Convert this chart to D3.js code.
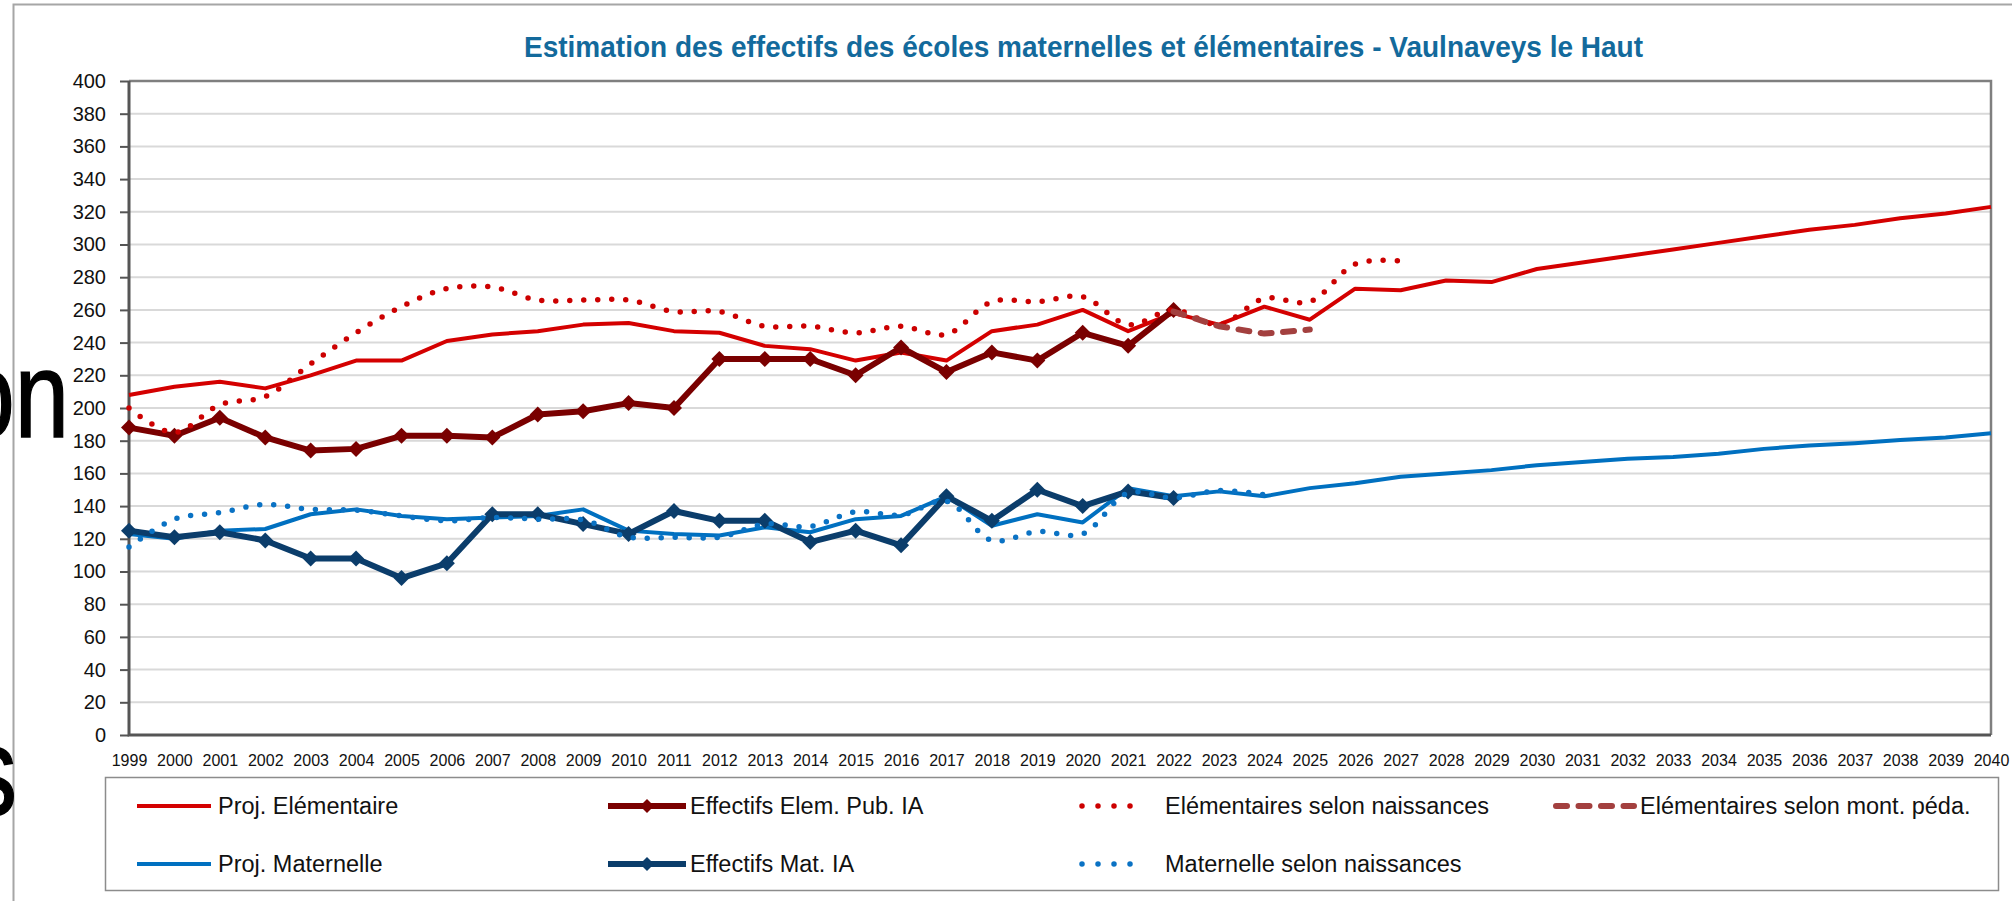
<!DOCTYPE html>
<html>
<head>
<meta charset="utf-8">
<script src="https://cdn.jsdelivr.net/npm/d3@7"></script>
<style>
  body { margin: 0; background: #fff; }
  svg { display: block; }
  text { font-family: "Liberation Sans", Arial, sans-serif; }
</style>
</head>
<body>
<div id="chart"></div>
<script>
// categories (x axis)
const years = ["1999","2000","2001","2002","2003","2004","2005","2006","2007","2008",
  "2009","2010","2011","2012","2013","2014","2015","2016","2017","2018","2019","2020",
  "2021","2022","2023","2024","2025","2026","2027","2028","2029","2030","2031","2032",
  "2033","2034","2035","2036","2037","2038","2039","2040"];

// series values
const projElem = [208, 213, 216, 212, 220, 229, 229, 241, 245, 247, 251, 252, 247, 246,
  238, 236, 229, 234, 229, 247, 251, 260, 247, 258, 251, 262, 254, 273, 272, 278, 277,
  285, 289, 293, 297, 301, 305, 309, 312, 316, 319, 323];
const elemIA = [188, 183, 194, 182, 174, 175, 183, 183, 182, 196, 198, 203, 200, 230,
  230, 230, 220, 237, 222, 234, 229, 246, 238, 260];
const elemNaiss = [200, 185, 202, 207, 227, 246, 262, 273, 274, 266, 266, 266, 259, 259,
  250, 250, 246, 250, 245, 265, 265, 268, 251, 260, 251, 267, 265, 288, 290];
const elemMontPeda = [259, 250, 245.5, 248]; // 2022 -> 2025
const projMat = [123, 120, 125, 126, 135, 138, 134, 132, 133, 134, 138, 125, 123, 122,
  127, 124, 132, 134, 146, 128, 135, 130, 151, 146, 149, 146, 151, 154, 158, 160, 162,
  165, 167, 169, 170, 172, 175, 177, 178.5, 180.5, 182, 184.5];
const matIA = [125, 121, 124, 119, 108, 108, 96, 105, 135, 135, 129, 123, 137, 131, 131,
  118, 125, 116, 146, 131, 150, 140, 149, 145];
const matNaiss = [115, 132, 136, 141, 138, 137.5, 134, 131, 133, 132, 131.5, 121, 121,
  121, 129, 127.5, 136.5, 134.5, 143, 119, 124.5, 123, 148, 145, 149.5, 147];

// y tick labels
const yTicks = [0, 20, 40, 60, 80, 100, 120, 140, 160, 180, 200, 220, 240, 260, 280,
  300, 320, 340, 360, 380, 400];

const title = "Estimation des effectifs  des écoles maternelles et élémentaires - Vaulnaveys  le Haut";

const width = 2012;
const height = 901;
const plotL = 129, plotR = 1991, plotT = 81, plotB = 735;

const svg = d3.select("#chart")
  .append("svg")
  .attr("width", width)
  .attr("height", height);

const x = d3.scalePoint().domain(years).range([plotL, plotR]);
const y = d3.scaleLinear().domain([0, 400]).range([plotB, plotT]);

// outer chart frame (runs off the picture on the right and bottom)
svg.append("rect")
  .attr("x", 13.5).attr("y", 4.5)
  .attr("width", 2100).attr("height", 1000)
  .attr("fill", "none")
  .attr("stroke", "#a6a6a6")
  .attr("stroke-width", 2);

// stray text fragments seen at the left edge
svg.append("text")
  .attr("transform", "translate(69,437) scale(0.8,1)")
  .attr("text-anchor", "end")
  .attr("font-size", "122px")
  .attr("fill", "#000")
  .attr("stroke", "#000")
  .attr("stroke-width", 1.5)
  .text("on");
svg.append("text")
  .attr("transform", "translate(17,815) scale(0.8,1)")
  .attr("text-anchor", "end")
  .attr("font-size", "127px")
  .attr("fill", "#000")
  .attr("stroke", "#000")
  .attr("stroke-width", 1.5)
  .text("s");

// title
svg.append("text")
  .attr("x", 524)
  .attr("y", 57)
  .attr("textLength", 1119)
  .attr("lengthAdjust", "spacingAndGlyphs")
  .attr("font-family", "'Liberation Sans Narrow', 'Arial Narrow', 'Liberation Sans', sans-serif")
  .attr("font-weight", "bold")
  .attr("font-size", "29px")
  .attr("fill", "#136a9c")
  .text(title);

// gridlines
svg.append("g")
  .selectAll("line")
  .data(yTicks.filter(d => d > 0 && d < 400))
  .join("line")
  .attr("x1", plotL).attr("x2", plotR)
  .attr("y1", d => y(d)).attr("y2", d => y(d))
  .attr("stroke", "#d9d9d9")
  .attr("stroke-width", 2);

// plot frame: top and right in grey
svg.append("path")
  .attr("d", `M${plotL},${y(400)}H${plotR}V${y(0)}`)
  .attr("fill", "none")
  .attr("stroke", "#7f7f7f")
  .attr("stroke-width", 2.5);

// y axis
const yAxis = svg.append("g")
  .attr("transform", `translate(${plotL},0)`)
  .call(d3.axisLeft(y).tickValues(yTicks).tickSize(9).tickPadding(14).tickSizeOuter(0));
yAxis.select(".domain").remove();
yAxis.selectAll(".tick line").attr("stroke", "#555").attr("stroke-width", 2);
yAxis.selectAll(".tick text")
  .attr("font-size", "20px")
  .attr("fill", "#111")
  .attr("font-family", "'Liberation Sans', Arial, sans-serif");

// x axis
const xAxis = svg.append("g")
  .attr("transform", `translate(0,${plotB})`)
  .call(d3.axisBottom(x).tickSize(0).tickPadding(20));
xAxis.select(".domain").remove();
xAxis.selectAll(".tick text")
  .attr("font-size", "16px")
  .attr("fill", "#111")
  .attr("font-family", "'Liberation Sans', Arial, sans-serif");

// axis lines
svg.append("path")
  .attr("d", `M${plotL},${y(400)}V${y(0)}H${plotR}`)
  .attr("fill", "none")
  .attr("stroke", "#555")
  .attr("stroke-width", 3);

// series
const pts = (values, start) => {
  const i0 = years.indexOf(start);
  return values.map((v, i) => [years[i0 + i], v]);
};

const straight = d3.line().x(d => x(d[0])).y(d => y(d[1]));
const smooth = d3.line().x(d => x(d[0])).y(d => y(d[1])).curve(d3.curveCatmullRom.alpha(0.5));

const series = [
  { label: "Proj. Elémentaire", data: pts(projElem, "1999"), color: "#d40000", w: 4, kind: "solid" },
  { label: "Effectifs Elem. Pub. IA", data: pts(elemIA, "1999"), color: "#7a0000", w: 6, kind: "marker" },
  { label: "Elémentaires selon naissances", data: pts(elemNaiss, "1999"), color: "#cc0000", w: 5.5, kind: "dot" },
  { label: "Elémentaires selon mont. péda.", data: pts(elemMontPeda, "2022"), color: "#a3403f", w: 6, kind: "dash" },
  { label: "Proj. Maternelle", data: pts(projMat, "1999"), color: "#0070c0", w: 4, kind: "solid" },
  { label: "Effectifs Mat. IA", data: pts(matIA, "1999"), color: "#0b3d6b", w: 6, kind: "marker" },
  { label: "Maternelle selon naissances", data: pts(matNaiss, "1999"), color: "#0a72c4", w: 5.5, kind: "dot" }
];

const diamond = (cx, cy, r) => `M${cx},${cy - r}L${cx + r},${cy}L${cx},${cy + r}L${cx - r},${cy}Z`;

const styleStroke = (sel, s) => {
  sel.attr("fill", "none")
    .attr("stroke", s.color)
    .attr("stroke-width", s.w)
    .attr("stroke-linejoin", "round");
  if (s.kind === "dot") sel.attr("stroke-dasharray", "0 14").attr("stroke-linecap", "round");
  if (s.kind === "dash") sel.attr("stroke-dasharray", "11 11.5").attr("stroke-linecap", "round");
};

series.forEach(s => {
  const g = svg.append("g");
  const p = g.append("path")
    .datum(s.data)
    .attr("d", s.kind === "dot" ? smooth : straight);
  styleStroke(p, s);
  if (s.kind === "marker") {
    g.selectAll("path.mk")
      .data(s.data)
      .join("path")
      .attr("class", "mk")
      .attr("d", d => diamond(x(d[0]), y(d[1]), 8))
      .attr("fill", s.color);
  }
});

// legend
svg.append("rect")
  .attr("x", 105.5).attr("y", 777.5)
  .attr("width", 1893).attr("height", 113)
  .attr("fill", "#fff")
  .attr("stroke", "#8c8c8c")
  .attr("stroke-width", 1.5);

const legendCols = [137, 608, 1082, 1556];
const legendRows = [806, 864];
const legendSlots = [[0, 0], [1, 0], [2, 0], [3, 0], [0, 1], [1, 1], [2, 1]];

series.forEach((s, i) => {
  const cx = legendCols[legendSlots[i][0]];
  const cy = legendRows[legendSlots[i][1]];
  const g = svg.append("g");
  let x2 = cx + 74, tx = cx + 81;
  if (s.kind === "marker") { x2 = cx + 78; tx = cx + 82; }
  if (s.kind === "dot") { x2 = cx + 64; tx = cx + 83; }
  if (s.kind === "dash") { x2 = cx + 78; tx = cx + 84; }
  const ln = g.append("line")
    .attr("x1", cx).attr("x2", x2)
    .attr("y1", cy).attr("y2", cy);
  styleStroke(ln, s);
  if (s.kind === "dot") ln.attr("stroke-dasharray", "0 16");
  if (s.kind === "marker") {
    g.append("path")
      .attr("d", diamond((cx + x2) / 2, cy, 7))
      .attr("fill", s.color);
  }
  g.append("text")
    .attr("x", tx)
    .attr("y", cy)
    .attr("dy", "0.36em")
    .attr("font-size", "23.5px")
    .attr("fill", "#111")
    .text(s.label);
});
</script>
</body>
</html>
